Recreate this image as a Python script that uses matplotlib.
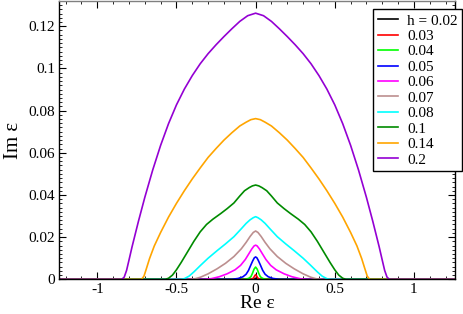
import numpy as np
import matplotlib
matplotlib.use('Agg')
import matplotlib.pyplot as plt
from matplotlib.ticker import MultipleLocator

plt.rcParams['font.family'] = ['Liberation Serif', 'DejaVu Serif']

# half curves (Re eps >= 0), mirrored below since the data is symmetric
labels = ['h = 0.02', '0.03', '0.04', '0.05', '0.06', '0.07', '0.08', '0.1', '0.14', '0.2']
colors = ['black', 'red', '#00ff00', 'blue', '#ff00ff', '#bc8f8f', 'cyan', '#008b00', '#ffa500', '#9400d3']

x_002 = [0, 0.005, 0.01]
y_002 = [0.0005, 0.0002, 0]
x_003 = [0, 0.006, 0.012, 0.02, 0.03]
y_003 = [0.0022, 0.0016, 0.0008, 0.0002, 0]
x_004 = [0, 0.01, 0.02, 0.03, 0.045, 0.07]
y_004 = [0.0058, 0.0048, 0.0028, 0.0012, 0.0004, 0]
x_005 = [0, 0.008, 0.018, 0.03, 0.045, 0.06, 0.08, 0.11, 0.15]
y_005 = [0.0106, 0.0102, 0.0088, 0.0068, 0.0042, 0.0024, 0.0012, 0.0004, 0]
x_006 = [0, 0.01, 0.025, 0.042, 0.065, 0.095, 0.13, 0.18, 0.23, 0.28, 0.32]
y_006 = [0.0162, 0.0158, 0.0143, 0.0122, 0.0094, 0.0066, 0.0045, 0.0026, 0.0012, 0.0003, 0]
x_007 = [0, 0.015, 0.035, 0.06, 0.09, 0.137, 0.19, 0.243, 0.3, 0.348, 0.38, 0.41]
y_007 = [0.0229, 0.0222, 0.0203, 0.0175, 0.0145, 0.0108, 0.0076, 0.005, 0.0026, 0.001, 0.0003, 0]
x_008 = [0, 0.015, 0.035, 0.06, 0.09, 0.137, 0.19, 0.243, 0.3, 0.348, 0.39, 0.42, 0.45, 0.47]
y_008 = [0.0297, 0.0292, 0.0282, 0.0265, 0.024, 0.0202, 0.0168, 0.0136, 0.01, 0.0066, 0.0035, 0.0015,
         0.0003, 0]
x_010 = [0, 0.02, 0.04, 0.07, 0.1, 0.137, 0.18, 0.22, 0.27, 0.31, 0.35, 0.39, 0.43, 0.47, 0.5, 0.525,
         0.55, 0.57]
y_010 = [0.0447, 0.0443, 0.0435, 0.042, 0.0395, 0.0362, 0.0335, 0.0312, 0.0285, 0.026, 0.0225, 0.018,
         0.013, 0.008, 0.0045, 0.002, 0.0005, 0]
x_014 = [0, 0.03, 0.06, 0.1, 0.15, 0.2, 0.25, 0.3, 0.35, 0.4, 0.45, 0.5, 0.55, 0.6, 0.64, 0.67, 0.69,
         0.705, 0.72]
y_014 = [0.0762, 0.0757, 0.0745, 0.0727, 0.0695, 0.066, 0.062, 0.0578, 0.0528, 0.0476, 0.042, 0.036,
         0.0295, 0.0222, 0.0158, 0.0098, 0.005, 0.0015, 0]
x_020 = [0, 0.05, 0.1, 0.15, 0.2, 0.25, 0.3, 0.35, 0.4, 0.45, 0.5, 0.55, 0.6, 0.65, 0.7, 0.74, 0.78,
         0.8, 0.815, 0.83, 0.845]
y_020 = [0.1262, 0.125, 0.1223, 0.1188, 0.1151, 0.1112, 0.107, 0.1022, 0.0966, 0.0902, 0.0827, 0.0738,
         0.0635, 0.0518, 0.0388, 0.0275, 0.0155, 0.009, 0.0042, 0.001, 0]

xs = [x_002, x_003, x_004, x_005, x_006, x_007, x_008, x_010, x_014, x_020]
ys = [y_002, y_003, y_004, y_005, y_006, y_007, y_008, y_010, y_014, y_020]

fig = plt.figure(figsize=(4.63, 3.14), dpi=100)
ax = fig.add_axes([0.128, 0.1105, 0.855, 0.8865])

for xh, yh, c, lab in zip(xs, ys, colors, labels):
    xh = np.array(xh)
    yh = np.array(yh)
    x = np.concatenate([[-1.3], -xh[::-1], xh[1:], [1.3]])
    y = np.concatenate([[0], yh[::-1], yh[1:], [0]])
    ax.plot(x, y, color=c, lw=1.2, label=lab)

ax.set_xlim(-1.24, 1.26)
ax.set_ylim(0, 0.132)
ax.xaxis.set_minor_locator(MultipleLocator(0.1))
ax.yaxis.set_minor_locator(MultipleLocator(0.002))
ax.set_xticks([-1, -0.5, 0, 0.5, 1])
ax.set_xticklabels(['-1', '-0.5', '0', '0.5', '1'])
ax.set_yticks([0, 0.02, 0.04, 0.06, 0.08, 0.1, 0.12])
ax.set_yticklabels(['0', '0.02', '0.04', '0.06', '0.08', '0.1', '0.12'])
ax.tick_params(which='both', direction='in', top=True, right=True, labelsize=11, pad=3)
ax.tick_params(which='major', length=5, width=0.8)
ax.tick_params(which='minor', length=2.5, width=0.6)
for s in ax.spines.values():
    s.set_linewidth(1.0)
ax.spines['top'].set_color('gray')

ax.set_xlabel('Re ε', fontsize=14, labelpad=-1)
ax.set_ylabel('Im ε', fontsize=15, labelpad=4)

leg = ax.legend(loc='upper right', bbox_to_anchor=(1.018, 0.97), fontsize=11, frameon=True,
                fancybox=False, edgecolor='black', framealpha=1, labelspacing=0.115,
                handlelength=1.3, handletextpad=0.6, borderpad=0.3, borderaxespad=0)
leg.get_frame().set_linewidth(1.0)

fig.savefig('out.png', dpi=100)
